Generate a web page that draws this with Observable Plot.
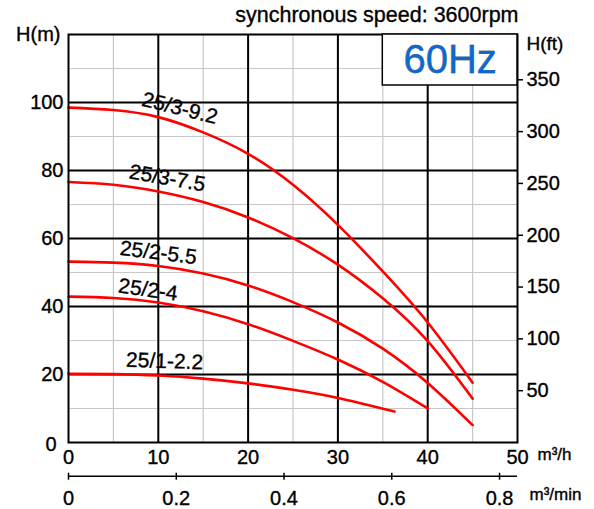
<!DOCTYPE html>
<html><head><meta charset="utf-8">
<script src="https://cdn.jsdelivr.net/npm/d3@7"></script>
<script src="https://cdn.jsdelivr.net/npm/@observablehq/plot@0.6"></script>
<style>
body{margin:0;background:#fff}
svg text{stroke:#000;stroke-width:0.35px;paint-order:stroke}
svg text.badge{stroke:none}
</style>
</head><body>
<script>
// ---- text ----
const titleText = "synchronous speed: 3600rpm";
const badgeText = "60Hz";
const yLeftTitle = "H(m)";
const yRightTitle = "H(ft)";
const xUnit1 = "m³/h";
const xUnit2 = "m³/min";

// ---- ticks ----
const xTicks = [0, 10, 20, 30, 40, 50];             // m³/h
const yTicks = [20, 40, 60, 80, 100];               // m
const yZeroTick = [0];
const ftTicks = [50, 100, 150, 200, 250, 300, 350]; // ft
const minTicks = [0, 0.2, 0.4, 0.6, 0.8];           // m³/min
const majorX = [10, 20, 30, 40];
const minorX = [5, 15, 25, 35, 45];
const majorY = [20, 40, 60, 80, 100];
const minorY = [10, 30, 50, 70, 90, 110];

// ---- series (flow m³/h, head m) ----
const q_3_92 = [0, 5, 10, 15, 20, 25, 30, 35, 40, 45];
const h_3_92 = [98.5, 97.8, 95.7, 91.2, 84.9, 75.8, 64.0, 50.3, 35.3, 17.6];
const q_3_75 = [0, 5, 10, 15, 20, 25, 30, 35, 40, 45];
const h_3_75 = [76.6, 75.8, 73.8, 70.7, 66.2, 60.1, 52.3, 42.4, 29.8, 12.9];
const q_2_55 = [0, 5, 10, 15, 20, 25, 30, 35, 40, 45];
const h_2_55 = [53.2, 52.9, 51.9, 49.7, 46.2, 41.3, 35.3, 27.6, 17.5, 5.1];
const q_2_4 = [0, 5, 10, 15, 20, 25, 30, 35, 40];
const h_2_4 = [42.9, 42.5, 41.2, 38.6, 34.8, 29.9, 24.4, 17.8, 10.0];
const q_1_22 = [0, 5, 10, 15, 20, 25, 30, 36.3];
const h_1_22 = [20.2, 20.1, 19.7, 18.8, 17.4, 15.5, 13.1, 9.1];

const seriesNames = ["25/3-9.2", "25/3-7.5", "25/2-5.5", "25/2-4", "25/1-2.2"];
const seriesQ = [q_3_92, q_3_75, q_2_55, q_2_4, q_1_22];
const seriesH = [h_3_92, h_3_75, h_2_55, h_2_4, h_1_22];

// ---- curve label placement ----
const labelQ = [12.4, 11.0, 10.0, 8.85, 10.7];
const labelH = [98.3, 77.7, 55.8, 44.9, 23.9];
const labelAngle = [14, 10, 7, 8, 2];

// ---- badge box (data coords) ----
const badgeQ = [35, 50];
const badgeH = [105, 120];

const FT = 0.3048;
const M3H_PER_M3MIN = 60;

const rows = seriesNames.flatMap((name, i) =>
  seriesQ[i].map((q, j) => ({name, q, h: seriesH[i][j]})));
const labelRows = seriesNames.map((name, i) => ({name, q: labelQ[i], h: labelH[i], a: labelAngle[i]}));

const font = "Arial, 'Liberation Sans', Helvetica, sans-serif";

const chart = Plot.plot({
  width: 594,
  height: 509,
  marginLeft: 68,
  marginRight: 77,
  marginTop: 34,
  marginBottom: 67,
  style: {fontFamily: font, fontSize: "20px", color: "black", background: "white", overflow: "visible"},
  x: {domain: [0, 50]},
  y: {domain: [0, 120]},
  marks: [
    Plot.ruleX(minorX, {stroke: "#c8c8c8", strokeWidth: 1.2}),
    Plot.ruleY(minorY, {stroke: "#c8c8c8", strokeWidth: 1.2}),
    Plot.ruleX(majorX, {stroke: "black", strokeWidth: 2}),
    Plot.ruleY(majorY, {stroke: "black", strokeWidth: 2}),
    Plot.line(rows, {x: "q", y: "h", z: "name", stroke: "#ff0000", strokeWidth: 2.6, curve: "natural"}),
    Plot.frame({stroke: "black", strokeWidth: 2}),
    Plot.rect([0], {x1: badgeQ[0], x2: badgeQ[1], y1: badgeH[0], y2: badgeH[1], fill: "white", stroke: "black", strokeWidth: 1.5}),
    Plot.text([badgeText], {x: (badgeQ[0] + badgeQ[1]) / 2, y: (badgeH[0] + badgeH[1]) / 2, text: d => d, fill: "#0b69d0", fontSize: 40, letterSpacing: "-1px", className: "badge"}),
    Plot.text(labelRows, {x: "q", y: "h", text: "name", rotate: "a", fontSize: 21, fill: "black"}),
    // axes
    Plot.axisY(yTicks, {anchor: "left", tickSize: 0, tickPadding: 5, fontSize: 20, label: null}),
    Plot.axisY(yZeroTick, {anchor: "left", tickSize: 0, tickPadding: 12, dy: 2, fontSize: 20, label: null}),
    Plot.axisY(ftTicks.map(f => f * FT), {anchor: "right", tickSize: 5, tickPadding: 4, strokeWidth: 1.5,
      tickFormat: d => String(Math.round(d / FT)), fontSize: 20, label: null}),
    Plot.axisX(xTicks, {anchor: "bottom", tickSize: 0, tickPadding: 7, fontSize: 20, label: null}),
    Plot.ruleY([0], {x1: 0, x2: 50, dy: 33.7, stroke: "black", strokeWidth: 1.5}),
    Plot.axisX(minTicks.map(m => m * M3H_PER_M3MIN), {anchor: "bottom", tickSize: 7, tickPadding: 11, dy: 30.7, strokeWidth: 1.5,
      tickFormat: d => String(+(d / M3H_PER_M3MIN).toFixed(1)), fontSize: 20, label: null}),
    // titles
    Plot.text([titleText], {frameAnchor: "top-right", text: d => d, textAnchor: "end", lineAnchor: "bottom", dx: 1, dy: -12.5, fontSize: 21.5}),
    Plot.text([yLeftTitle], {frameAnchor: "top-left", text: d => d, textAnchor: "end", lineAnchor: "middle", dx: -8, dy: 0, fontSize: 20}),
    Plot.text([yRightTitle], {frameAnchor: "top-right", text: d => d, textAnchor: "start", lineAnchor: "middle", dx: 9, dy: 9, fontSize: 19}),
    Plot.text([xUnit1], {frameAnchor: "bottom-right", text: d => d, textAnchor: "start", dx: 20, dy: 17, fontSize: 17}),
    Plot.text([xUnit2], {frameAnchor: "bottom-right", text: d => d, textAnchor: "start", dx: 12, dy: 57, fontSize: 17})
  ]
});
document.body.appendChild(chart);
</script>
</body></html>
